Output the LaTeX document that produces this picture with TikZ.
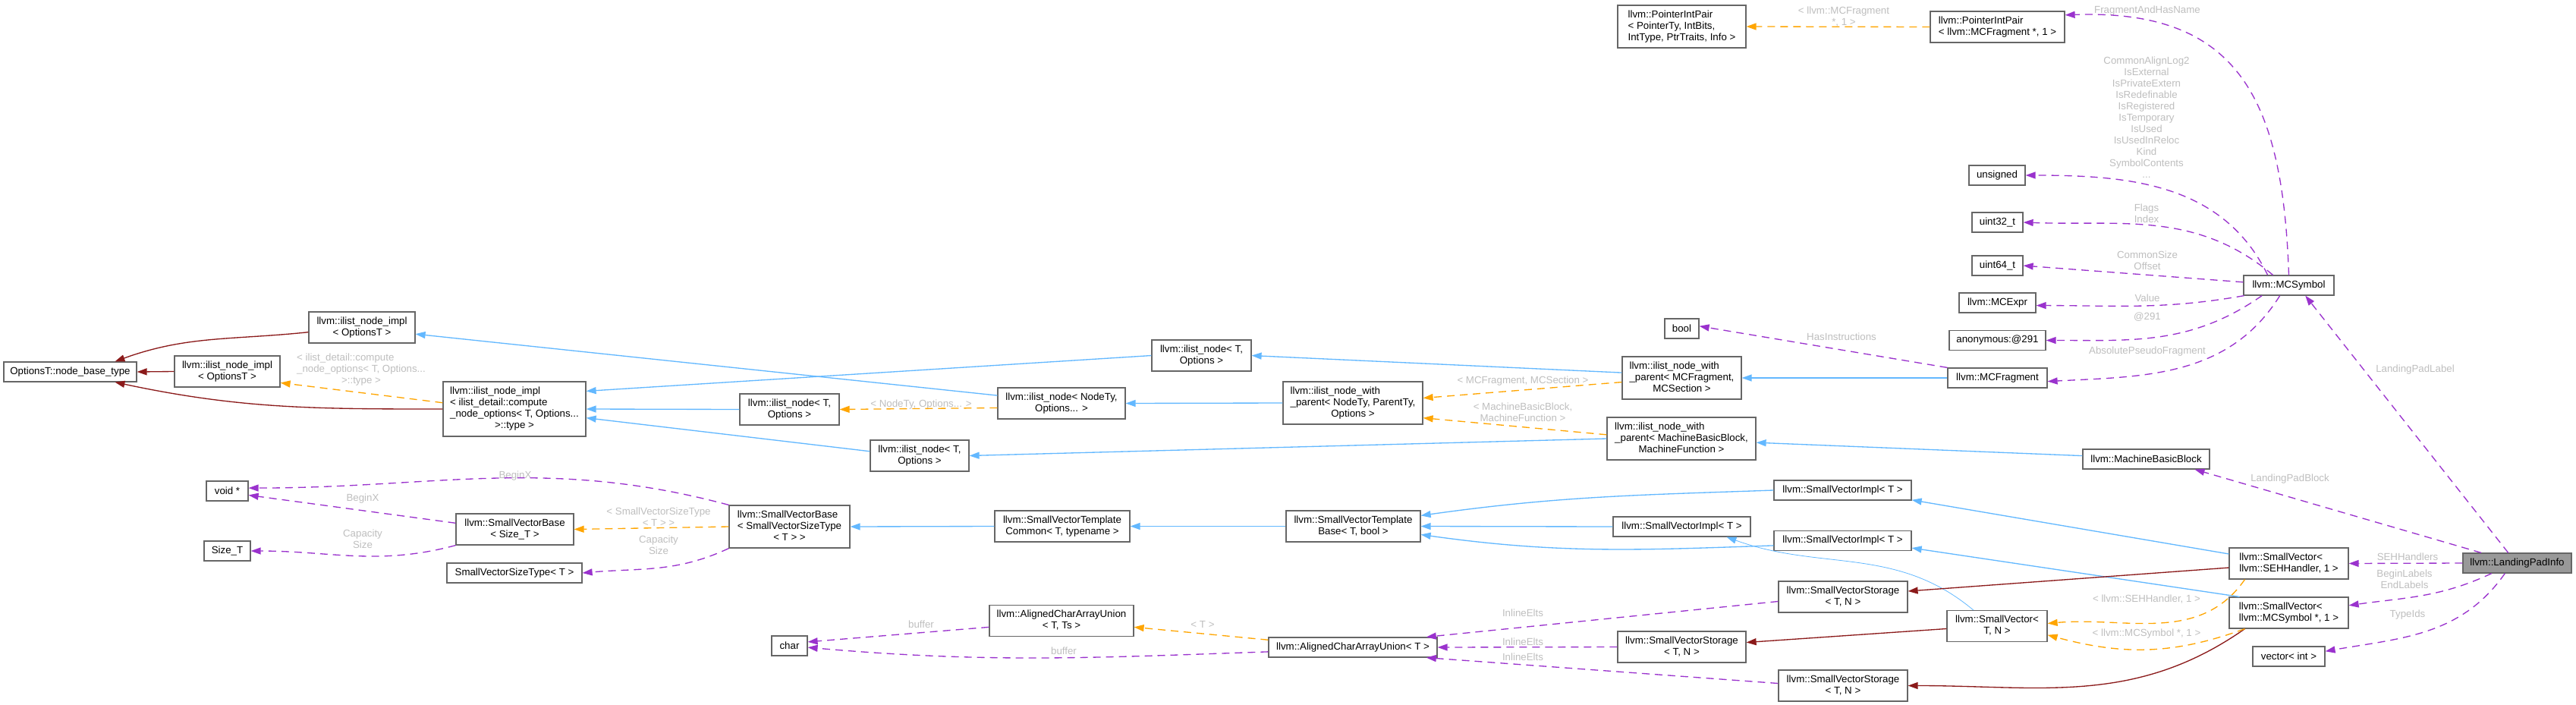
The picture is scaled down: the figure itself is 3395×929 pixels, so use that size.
\documentclass[tikz,border=0pt]{standalone}
\usepackage{fontspec}
\setmainfont{Liberation Sans}
\usepackage{xcolor}
\usepackage{tikz}
\usetikzlibrary{arrows.meta}
\definecolor{inhblue}{HTML}{63B8FF}
\definecolor{privred}{HTML}{8B1A1A}
\definecolor{tplorange}{HTML}{FFA500}
\definecolor{useorchid}{HTML}{9A32CD}
\definecolor{lblgray}{HTML}{BEBEBE}
\definecolor{boxgray}{HTML}{666666}
\definecolor{curgray}{HTML}{999999}
\newcommand{\dlines}[2]{\begin{tabular}{@{}l@{}}#1\\\multicolumn{1}{@{}c@{}}{#2}\end{tabular}}
\tikzset{
    cls/.style={rectangle, draw=boxgray, line width=1.2pt, fill=white, inner sep=0pt, font=\fontsize{13.3}{15}\selectfont},
    cur/.style={cls, fill=curgray},
    sz/.style 2 args={minimum width=#1pt, minimum height=#2pt},
    lbl/.style={font=\fontsize{13.3}{15}\selectfont, text=lblgray, align=center, inner sep=0pt},
    inhline/.style={draw=inhblue, line width=1.33pt, -{Triangle[length=13pt, width=9pt]}},
    privline/.style={inhline, draw=privred},
    tmplline/.style={inhline, draw=tplorange, dash pattern=on 10pt off 7pt},
    useline/.style={inhline, draw=useorchid, dash pattern=on 10pt off 7pt},
}
\begin{document}
\begin{tikzpicture}[x=1pt, y=-1pt]
    \useasboundingbox (0,0) rectangle (3395,929);

    % classes
    \node[cls, sz={175}{26}] (base) at (92.5,490) {OptionsT::node\_base\_type};
    \node[cls, sz={139}{41}] (impl2) at (299.5,489.5) {\dlines{llvm::ilist\_node\_impl}{< OptionsT >}};
    \node[cls, sz={140}{41}] (impl1) at (477,431.5) {\dlines{llvm::ilist\_node\_impl}{< OptionsT >}};
    \node[cls, sz={188}{72}] (impl3) at (678,539) {\dlines{llvm::ilist\_node\_impl\\< ilist\_detail::compute\\\_node\_options< T, Options...}{>::type >}};
    \node[cls, sz={55}{26}] (voidp) at (299.5,647) {void *};
    \node[cls, sz={61}{26}] (sizet) at (299.5,726) {Size\_T};
    \node[cls, sz={155}{41}] (svbsize) at (678.5,697.5) {\dlines{llvm::SmallVectorBase}{< Size\_T >}};
    \node[cls, sz={178}{26}] (svst) at (678,755) {SmallVectorSizeType< T >};
    \node[cls, sz={159}{56}] (svbase) at (1040.5,694) {\dlines{llvm::SmallVectorBase\\< SmallVectorSizeType}{< T > >}};
    \node[cls, sz={47}{26}] (chr) at (1040.5,851) {char};
    \node[cls, sz={131}{41}] (node2) at (1040.5,539.5) {\dlines{llvm::ilist\_node< T,}{Options >}};
    \node[cls, sz={130}{41}] (node3) at (1212,600.5) {\dlines{llvm::ilist\_node< T,}{Options >}};
    \node[cls, sz={168}{41}] (nodety) at (1399,531.5) {\dlines{llvm::ilist\_node< NodeTy,}{Options... >}};
    \node[cls, sz={131}{41}] (node1) at (1583.5,468.5) {\dlines{llvm::ilist\_node< T,}{Options >}};
    \node[cls, sz={178}{41}] (svtc) at (1400,693.5) {\dlines{llvm::SmallVectorTemplate}{Common< T, typename >}};
    \node[cls, sz={190}{41}] (acauts) at (1399,818) {\dlines{llvm::AlignedCharArrayUnion}{< T, Ts >}};
    \node[cls, sz={184}{56}] (nwp) at (1783,531) {\dlines{llvm::ilist\_node\_with\\\_parent< NodeTy, ParentTy,}{Options >}};
    \node[cls, sz={177}{41}] (svtb) at (1783.5,693.5) {\dlines{llvm::SmallVectorTemplate}{Base< T, bool >}};
    \node[cls, sz={222}{26}] (acau) at (1783,853) {llvm::AlignedCharArrayUnion< T >};
    \node[cls, sz={169}{56}] (pipgen) at (2216.5,35) {\dlines{llvm::PointerIntPair\\< PointerTy, IntBits,}{IntType, PtrTraits, Info >}};
    \node[cls, sz={45}{26}] (bool) at (2216.5,433) {bool};
    \node[cls, sz={157}{56}] (nwpmc) at (2216.5,498) {\dlines{llvm::ilist\_node\_with\\\_parent< MCFragment,}{MCSection >}};
    \node[cls, sz={196}{56}] (nwpmbb) at (2216,578) {\dlines{llvm::ilist\_node\_with\\\_parent< MachineBasicBlock,}{MachineFunction >}};
    \node[cls, sz={181}{26}] (svimpl2) at (2216.5,694) {llvm::SmallVectorImpl< T >};
    \node[cls, sz={169}{41}] (svs2) at (2216.5,852.5) {\dlines{llvm::SmallVectorStorage}{< T, N >}};
    \node[cls, sz={181}{26}] (svimpl1) at (2428.5,646) {llvm::SmallVectorImpl< T >};
    \node[cls, sz={181}{26}] (svimpl3) at (2428.5,712.5) {llvm::SmallVectorImpl< T >};
    \node[cls, sz={170}{41}] (svs1) at (2429,786.5) {\dlines{llvm::SmallVectorStorage}{< T, N >}};
    \node[cls, sz={170}{41}] (svs3) at (2429,903.5) {\dlines{llvm::SmallVectorStorage}{< T, N >}};
    \node[cls, sz={177}{41}] (pipmc) at (2632.5,35.5) {\dlines{llvm::PointerIntPair}{< llvm::MCFragment *, 1 >}};
    \node[cls, sz={74}{26}] (unsgn) at (2632,231) {unsigned};
    \node[cls, sz={67}{26}] (u32) at (2632.5,293) {uint32\_t};
    \node[cls, sz={67}{26}] (u64) at (2632.5,350) {uint64\_t};
    \node[cls, sz={101}{26}] (mcexpr) at (2632.5,399) {llvm::MCExpr};
    \node[cls, sz={127}{26}] (anon) at (2632.5,448.5) {anonymous:@291};
    \node[cls, sz={131}{26}] (mcfrag) at (2632.5,498) {llvm::MCFragment};
    \node[cls, sz={132}{41}] (svtn) at (2632,825) {\dlines{llvm::SmallVector<}{T, N >}};
    \node[cls, sz={167}{26}] (mbb) at (2828.5,605) {llvm::MachineBasicBlock};
    \node[cls, sz={119}{26}] (mcsym) at (3016.5,376) {llvm::MCSymbol};
    \node[cls, sz={157}{41}] (svseh) at (3016.5,742.5) {\dlines{llvm::SmallVector<}{llvm::SEHHandler, 1 >}};
    \node[cls, sz={157}{41}] (svsym) at (3016.5,807.5) {\dlines{llvm::SmallVector<}{llvm::MCSymbol *, 1 >}};
    \node[cls, sz={95}{26}] (vecint) at (3016.5,865) {vector< int >};
    \node[cur, sz={143}{26}] (lpi) at (3317.5,742) {llvm::LandingPadInfo};

    % edge labels
    \node[lbl] (lImpl) at (476,487) {\dlines{< ilist\_detail::compute\\\_node\_options< T, Options...}{>::type >}};
    \node[lbl] (lNodeTy) at (1214,533) {< NodeTy, Options... >};
    \node[lbl] (lMC) at (2007,502) {< MCFragment, MCSection >};
    \node[lbl] (lMBB) at (2007,543) {< MachineBasicBlock,\\MachineFunction >};
    \node[lbl] (lHasIns) at (2427,444) {HasInstructions};
    \node[lbl] (lPip) at (2430,22) {< llvm::MCFragment\\*, 1 >};
    \node[lbl] (lFrag) at (2830,14) {FragmentAndHasName};
    \node[lbl] (lSym) at (2829,155) {CommonAlignLog2\\IsExternal\\IsPrivateExtern\\IsRedefinable\\IsRegistered\\IsTemporary\\IsUsed\\IsUsedInReloc\\Kind\\SymbolContents\\...};
    \node[lbl] (lFlags) at (2829,281.5) {Flags\\Index};
    \node[lbl] (lSize) at (2830,343.5) {CommonSize\\Offset};
    \node[lbl] (lValue) at (2830,393) {Value};
    \node[lbl] (lAnon) at (2830,418) {@291};
    \node[lbl] (lAbs) at (2830,463) {AbsolutePseudoFragment};
    \node[lbl] (lPadLabel) at (3183,487) {LandingPadLabel};
    \node[lbl] (lPadBlock) at (3018,631) {LandingPadBlock};
    \node[lbl] (lSEH) at (3173,734) {SEHHandlers};
    \node[lbl] (lBegin) at (3169,763.5) {BeginLabels\\EndLabels};
    \node[lbl] (lTypes) at (3173,810) {TypeIds};
    \node[lbl] (lSEHt) at (2829,790) {< llvm::SEHHandler, 1 >};
    \node[lbl] (lSymt) at (2829,835) {< llvm::MCSymbol *, 1 >};
    \node[lbl] (lInl1) at (2007,808) {InlineElts};
    \node[lbl] (lInl2) at (2007,846) {InlineElts};
    \node[lbl] (lInl3) at (2007,866) {InlineElts};
    \node[lbl] (lBuf1) at (1214,823) {buffer};
    \node[lbl] (lT) at (1585,823) {< T >};
    \node[lbl] (lBuf2) at (1402,858) {buffer};
    \node[lbl] (lSvst) at (868,681.5) {< SmallVectorSizeType\\< T > >};
    \node[lbl] (lBeginX1) at (679,627) {BeginX};
    \node[lbl] (lBeginX2) at (478,657) {BeginX};
    \node[lbl] (lCap1) at (478,710) {Capacity\\Size};
    \node[lbl] (lCap2) at (868,718) {Capacity\\Size};

    % ilist part
    \draw[privline] (impl1.185) to[out=186, in=20] (base.13);
    \draw[privline] (impl2.west) -- (base.east);
    \draw[privline] (impl3.west) to[out=180, in=-12] (base.-13);
    \draw[tmplline] (impl3.175) -- (impl2.-12);
    \draw[inhline] (nodety.173) -- (impl1.-7);
    \draw[inhline] (node1.west) -- (impl3.14);
    \draw[inhline] (node2.west) -- (impl3.east);
    \draw[inhline] (node3.175) -- (impl3.-7);
    \draw[tmplline] (nodety.184) -- (node2.east);
    \draw[inhline] (nwp.west) -- (nodety.east);
    \draw[inhline] (nwpmc.175) -- (node1.east);
    \draw[inhline] (nwpmbb.west) -- (node3.east);
    \draw[tmplline] (nwpmc.184) -- (nwp.4);
    \draw[tmplline] (nwpmbb.177) -- (nwp.-12);
    \draw[inhline] (mcfrag.west) -- (nwpmc.east);
    \draw[inhline] (mbb.177) -- (nwpmbb.-3);
    \draw[useline] (mcfrag.north west) -- (bool.8);

    % MCSymbol members
    \draw[useline] (mcsym.north) to[out=92, in=2, looseness=1.3] (pipmc.10);
    \draw[tmplline] (pipmc.west) -- (pipgen.east);
    \draw[useline] (mcsym.154) to[out=116, in=0] (unsgn.east);
    \draw[useline] (mcsym.147) to[out=140, in=-2] (u32.east);
    \draw[useline] (mcsym.176) -- (u64.east);
    \draw[useline] (mcsym.193) to[out=190, in=0] (mcexpr.-4);
    \draw[useline] (mcsym.201) to[out=215, in=0] (anon.east);
    \draw[useline] (mcsym.229) to[out=238, in=3] (mcfrag.-4);

    % LandingPadInfo members
    \draw[useline] (lpi.131) -- (mcsym.-32);
    \draw[useline] (lpi.164) -- (mbb.-12);
    \draw[useline] (lpi.west) -- (svseh.east);
    \draw[useline] (lpi.202) to[out=205, in=8] (svsym.7);
    \draw[useline] (lpi.220) to[out=235, in=10] (vecint.8);

    % SmallVector part
    \draw[inhline] (svimpl1.west) to[out=182, in=8] (svtb.9);
    \draw[inhline] (svimpl2.west) -- (svtb.east);
    \draw[inhline] (svimpl3.184) to[out=182, in=-8] (svtb.-7);
    \draw[inhline] (svseh.171) -- (svimpl1.-8);
    \draw[inhline] (svsym.162) -- (svimpl3.-6);
    \draw[inhline, line width=0.8pt] (svtn.146) to[out=140, in=-20] (svimpl2.-13);
    \draw[privline] (svseh.184) -- (svs1.5);
    \draw[privline] (svtn.183) -- (svs2.4);
    \draw[privline] (svsym.200) to[out=215, in=0] (svs3.east);
    \draw[tmplline] (svseh.200) to[out=235, in=5] (svtn.3);
    \draw[tmplline] (svsym.200) to[out=200, in=-15] (svtn.-10);
    \draw[inhline] (svtb.west) -- (svtc.east);
    \draw[inhline] (svtc.west) -- (svbase.east);
    \draw[tmplline] (svbase.west) -- (svbsize.east);
    \draw[useline] (svbase.north west) to[out=165, in=0] (voidp.8);
    \draw[useline] (svbsize.174) -- (voidp.-11);
    \draw[useline] (svbsize.south west) to[out=195, in=0] (sizet.east);
    \draw[useline] (svbase.south west) to[out=205, in=5] (svst.east);
    \draw[useline] (svs1.184) -- (acau.8);
    \draw[useline] (svs2.west) -- (acau.east);
    \draw[useline] (svs3.178) -- (acau.-8);
    \draw[tmplline] (acau.175) -- (acauts.-5);
    \draw[useline] (acauts.185) -- (chr.12);
    \draw[useline] (acau.183) to[out=182, in=-5] (chr.-5);
\end{tikzpicture}
\end{document}
